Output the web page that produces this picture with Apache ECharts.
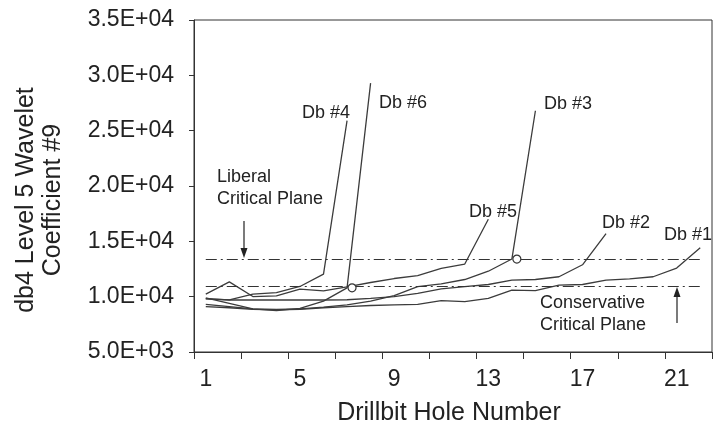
<!DOCTYPE html>
<html>
<head>
<meta charset="utf-8">
<script src="https://cdn.jsdelivr.net/npm/echarts@6/dist/echarts.min.js"></script>
<style>
  html, body { margin: 0; padding: 0; background: #fff; }
  #chart { width: 713px; height: 426px; }
</style>
</head>
<body>
<div id="chart"></div>
<script>
// Drillbit hole numbers (x categories)
const holes = ['1','2','3','4','5','6','7','8','9','10','11','12','13','14','15','16','17','18','19','20','21','22'];

// db4 level 5 wavelet coefficient #9 per drillbit, by hole
const db1 = [9100, 9000, 8850, 8800, 8850, 9000, 9100, 9200, 9250, 9300, 9650, 9550, 9850, 10600, 10550, 11050, 11100, 11500, 11600, 11800, 12580, 14420];
const db2 = [9800, 9700, 9700, 9700, 9700, 9700, 9720, 9850, 10000, 10300, 10700, 10900, 11100, 11500, 11550, 11800, 12880, 15700];
const db3 = [9300, 9100, 8900, 8850, 8900, 9050, 9250, 9600, 10100, 10900, 11150, 11550, 12300, 13400, 26800];
const db4 = [9830, 9710, 10230, 10370, 10920, 12040, 25900];
const db5 = [10230, 11340, 10010, 10070, 10680, 10520, 10890, 11280, 11640, 11900, 12550, 12950, 17000];
const db6 = [9900, 9400, 8900, 8750, 8950, 9600, 10800, 29300];

// critical planes (threshold values)
const liberalPlane = 13400;
const conservativePlane = 10900;

// y axis range
const yMin = 5000, yMax = 35000, yStep = 5000;

// holes where a drillbit's curve meets a critical plane (circled)
const crossings = [
  { hole: '7', value: db6[6] },
  { hole: '14', value: db3[13] }
];

const ink = '#222';
const lineInk = '#3c3c3c';
const FONT = 'Liberation Sans, Arial, sans-serif';

function sci(v) {
  const [m, e] = v.toExponential(1).split('e');
  const n = Math.abs(parseInt(e, 10));
  return m + 'E' + (parseInt(e, 10) < 0 ? '-' : '+') + (n < 10 ? '0' + n : n);
}

const chart = echarts.init(document.getElementById('chart'), null, { renderer: 'canvas' });

const curves = [db1, db2, db3, db4, db5, db6];
const names = ['Db #1', 'Db #2', 'Db #3', 'Db #4', 'Db #5', 'Db #6'];

const planeStyle = { color: '#333', width: 1, type: [11, 4, 2, 4] };

const series = curves.map((d, k) => ({
  name: names[k],
  type: 'line',
  data: d,
  symbol: 'none',
  smooth: false,
  animation: false,
  lineStyle: { color: lineInk, width: 1.3 },
  z: 3
}));

// dash-dot critical planes spanning hole 1 to hole 22, plus crossing circles
series.push({
  name: 'planes',
  type: 'line',
  data: [],
  symbol: 'none',
  animation: false,
  markLine: {
    silent: true,
    animation: false,
    symbol: ['none', 'none'],
    label: { show: false },
    lineStyle: planeStyle,
    data: [
      [{ coord: [holes[0], liberalPlane] }, { coord: [holes[holes.length - 1], liberalPlane] }],
      [{ coord: [holes[0], conservativePlane] }, { coord: [holes[holes.length - 1], conservativePlane] }]
    ]
  },
  markPoint: {
    silent: true,
    animation: false,
    symbol: 'circle',
    symbolSize: 8,
    symbolOffset: [5, 0],
    itemStyle: { color: '#fff', borderColor: '#333', borderWidth: 1.2 },
    label: { show: false },
    data: crossings.map(c => ({ coord: [c.hole, c.value] }))
  },
  z: 4
});

function txt(x, y, text, size, align, lh) {
  return {
    type: 'text', x: x, y: y, silent: true,
    style: { text: text, fill: ink, font: size + 'px ' + FONT, textAlign: align || 'left', textVerticalAlign: 'middle', lineHeight: lh || Math.round(size * 1.1) }
  };
}

function arrow(x, y1, y2) {
  const dir = y2 > y1 ? 1 : -1;
  return [
    { type: 'line', silent: true, shape: { x1: x, y1: y1, x2: x, y2: y2 - dir * 8 }, style: { stroke: '#222', lineWidth: 1.2 } },
    { type: 'polygon', silent: true, shape: { points: [[x - 3.5, y2 - dir * 10], [x + 3.5, y2 - dir * 10], [x, y2]] }, style: { fill: '#222' } }
  ];
}

const option = {
  backgroundColor: '#fff',
  animation: false,
  textStyle: { fontFamily: FONT },
  grid: { left: 194, right: 1, top: 20, bottom: 74, show: true, borderColor: '#333', borderWidth: 1, containLabel: false },
  xAxis: {
    type: 'category',
    data: holes,
    boundaryGap: true,
    axisLine: { lineStyle: { color: '#333', width: 1 } },
    axisTick: { show: true, interval: 1, length: 7, lineStyle: { color: '#333' } },
    axisLabel: { interval: 3, fontSize: 23, color: ink, margin: 16, fontFamily: FONT },
    splitLine: { show: false }
  },
  yAxis: {
    type: 'value',
    min: yMin, max: yMax, interval: yStep,
    axisLine: { show: true, lineStyle: { color: '#333', width: 1 } },
    axisTick: { show: true, length: 5, lineStyle: { color: '#333' } },
    axisLabel: { fontSize: 23, color: ink, margin: 20, fontFamily: FONT, formatter: sci },
    splitLine: { show: false }
  },
  series: series,
  graphic: [
    // axis titles
    txt(449, 413, 'Drillbit Hole Number', 25, 'center'),
    Object.assign(txt(40, 200, 'db4 Level 5 Wavelet\nCoefficient #9', 25, 'center', 27), { rotation: Math.PI / 2 }),
    // curve labels
    txt(302, 113, 'Db #4', 18),
    txt(379, 103, 'Db #6', 18),
    txt(544, 104, 'Db #3', 18),
    txt(469, 212, 'Db #5', 18),
    txt(602, 223, 'Db #2', 18),
    txt(664, 235, 'Db #1', 18),
    // plane captions
    txt(217, 188, 'Liberal\nCritical Plane', 18, 'left', 22),
    txt(540, 314, 'Conservative\nCritical Plane', 18, 'left', 22),
    ...arrow(244, 221, 258),
    ...arrow(677, 323, 287)
  ]
};

chart.setOption(option);
</script>
</body>
</html>
